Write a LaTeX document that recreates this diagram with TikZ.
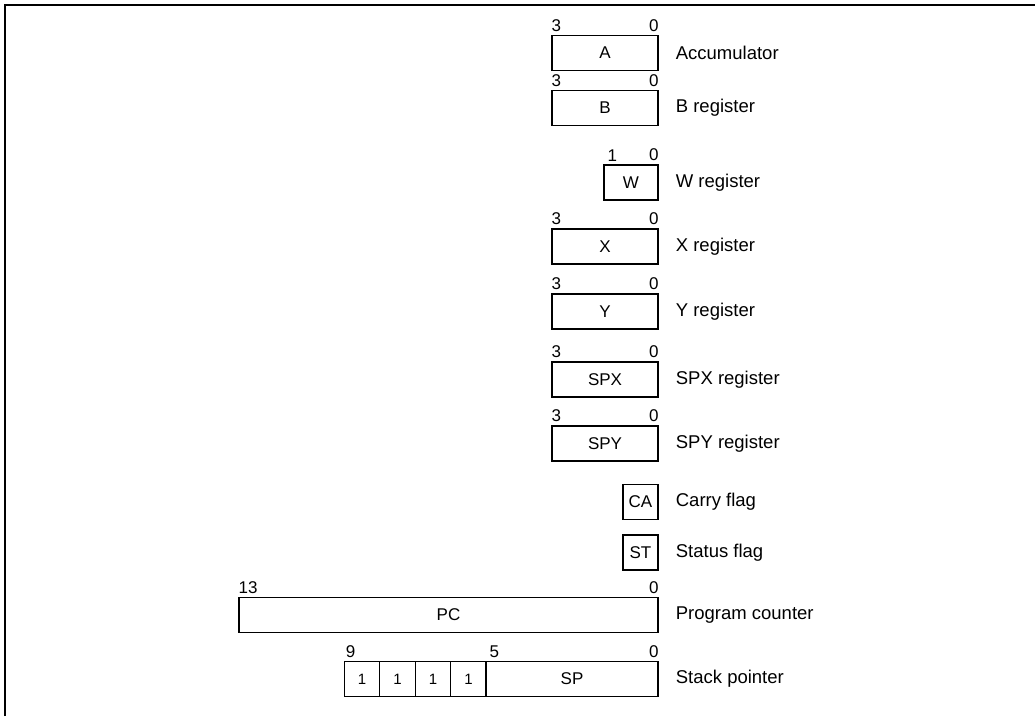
\documentclass[tikz,border=0pt]{standalone}
\usepackage{fontspec}
\setmainfont{Liberation Sans}
\begin{document}
\begin{tikzpicture}[x=1pt,y=-1pt,
  reg/.style={draw, line width=1.3pt, minimum height=35pt, inner sep=0pt, font=\fontsize{17}{19}\selectfont},
  bit/.style={inner sep=0pt, yshift=3pt, font=\fontsize{17}{19}\selectfont},
  bitl/.style={bit, anchor=south west},
  bitr/.style={bit, anchor=south east},
  desc/.style={anchor=west, inner sep=0pt, xshift=17pt, font=\fontsize{18.5}{20}\selectfont},
  cell/.style={reg, minimum width=35.5pt, font=\fontsize{15}{17}\selectfont}]
\useasboundingbox (0,0) rectangle (1035,716);
\draw[line width=1.5pt] (5,716) -- (5,5) -- (1035,5);

\node[reg, minimum width=106pt] (A) at (605,53) {A};
\node[bitl] (A3) at (A.north west) {3};
\node[bitr] (A0) at (A.north east) {0};
\node[desc] (Ad) at (A.east) {Accumulator};

\node[reg, minimum width=106pt] (B) at (605,108) {B};
\node[bitl] (B3) at (B.north west) {3};
\node[bitr] (B0) at (B.north east) {0};
\node[desc] (Bd) at (B.east) {B register};

\node[reg, minimum width=54pt] (W) at (631,182.5) {W};
\node[bitl, xshift=4pt] (W1) at (W.north west) {1};
\node[bitr] (W0) at (W.north east) {0};
\node[desc] (Wd) at (W.east) {W register};

\node[reg, minimum width=106pt] (X) at (605,246.5) {X};
\node[bitl] (X3) at (X.north west) {3};
\node[bitr] (X0) at (X.north east) {0};
\node[desc] (Xd) at (X.east) {X register};

\node[reg, minimum width=106pt] (Y) at (605,311.5) {Y};
\node[bitl] (Y3) at (Y.north west) {3};
\node[bitr] (Y0) at (Y.north east) {0};
\node[desc] (Yd) at (Y.east) {Y register};

\node[reg, minimum width=106pt] (SPX) at (605,379.5) {SPX};
\node[bitl] (SPX3) at (SPX.north west) {3};
\node[bitr] (SPX0) at (SPX.north east) {0};
\node[desc] (SPXd) at (SPX.east) {SPX register};

\node[reg, minimum width=106pt] (SPY) at (605,443.5) {SPY};
\node[bitl] (SPY3) at (SPY.north west) {3};
\node[bitr] (SPY0) at (SPY.north east) {0};
\node[desc] (SPYd) at (SPY.east) {SPY register};

\node[reg, minimum width=35pt] (CA) at (640.5,502) {CA};
\node[desc] (CAd) at (CA.east) {Carry flag};

\node[reg, minimum width=35pt] (ST) at (640.5,552.5) {ST};
\node[desc] (STd) at (ST.east) {Status flag};

\node[reg, minimum width=419pt] (PC) at (448.5,615) {PC};
\node[bitl] (PC13) at (PC.north west) {13};
\node[bitr] (PC0) at (PC.north east) {0};
\node[desc] (PCd) at (PC.east) {Program counter};

\node[cell] (c1) at (362,679) {1};
\node[cell] (c2) at (397.5,679) {1};
\node[cell] (c3) at (433,679) {1};
\node[cell] (c4) at (468.5,679) {1};
\node[reg, minimum width=172pt] (SP) at (572,679) {SP};
\node[bitl, xshift=2pt] (SP9) at (c1.north west) {9};
\node[bitl, xshift=4pt] (SP5) at (SP.north west) {5};
\node[bitr] (SP0) at (SP.north east) {0};
\node[desc] (SPd) at (SP.east) {Stack pointer};
\end{tikzpicture}
\end{document}
